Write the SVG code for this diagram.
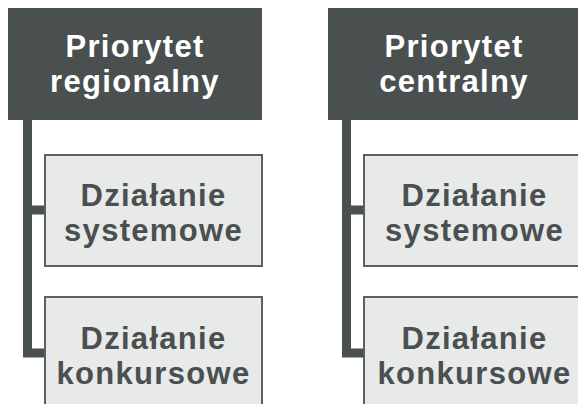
<svg xmlns="http://www.w3.org/2000/svg" width="578" height="404" viewBox="0 0 578 404">
<style>
.hdr{fill:#4a5050}
.child{fill:#e8e9e9;stroke:#5a6161;stroke-width:2}
.conn{fill:none;stroke:#4a5050;stroke-width:9;stroke-linejoin:miter}
text{font-family:"Liberation Sans",Arial,sans-serif;font-weight:bold;font-size:31px;letter-spacing:1.3px;text-anchor:middle}
.ht{fill:#ffffff}
.ct{fill:#4a5050}
</style>
<rect width="578" height="404" fill="#ffffff"/>
<g id="connectors">
<path class="conn" d="M27.5 120 V353 H46 M27.5 210 H46"/>
<path class="conn" d="M346.5 120 V353 H365 M346.5 210 H365"/>
</g>
<g id="priorytet-regionalny">
<rect class="hdr" x="8" y="8" width="254" height="112"/>
<text class="ht" x="135" y="57">Priorytet<tspan x="135" dy="35">regionalny</tspan></text>
</g>
<g id="dzialanie-systemowe-1">
<rect class="child" x="45" y="155" width="217" height="111"/>
<text class="ct" x="153.5" y="206">Działanie<tspan x="153.5" dy="35">systemowe</tspan></text>
</g>
<g id="dzialanie-konkursowe-1">
<rect class="child" x="45" y="297" width="217" height="111"/>
<text class="ct" x="153.5" y="349">Działanie<tspan x="153.5" dy="35">konkursowe</tspan></text>
</g>
<g id="priorytet-centralny">
<rect class="hdr" x="328" y="8" width="254" height="112"/>
<text class="ht" x="454" y="57">Priorytet<tspan x="454" dy="35">centralny</tspan></text>
</g>
<g id="dzialanie-systemowe-2">
<rect class="child" x="364" y="155" width="222" height="111"/>
<text class="ct" x="474.5" y="206">Działanie<tspan x="474.5" dy="35">systemowe</tspan></text>
</g>
<g id="dzialanie-konkursowe-2">
<rect class="child" x="364" y="297" width="222" height="111"/>
<text class="ct" x="474.5" y="349">Działanie<tspan x="474.5" dy="35">konkursowe</tspan></text>
</g>
</svg>
